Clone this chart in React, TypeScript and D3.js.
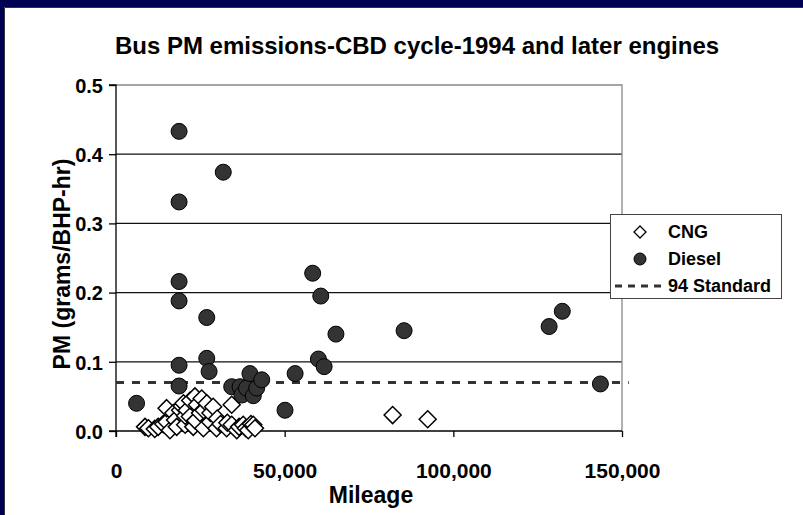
import React, { useRef, useEffect } from 'react';
import * as d3 from 'd3';

// CNG buses: mileage, PM (g/BHP-hr)
const cngMileage = [8600, 9600, 11500, 12500, 14000, 15000, 15000, 16000, 17000, 17500, 18000, 19000, 19500, 20000, 20500, 20500, 21000, 21900, 22000, 22900, 23400, 23500, 24000, 24900, 25400, 25900, 26000, 26900, 27900, 28000, 28800, 29800, 30000, 31000, 32800, 33000, 34300, 34300, 35800, 36500, 37700, 38500, 39200, 40000, 40700, 41200, 82000, 92400];
const cngPM = [0.006, 0.004, 0.003, 0.006, 0.010, 0.013, 0.033, 0.001, 0.026, 0.016, 0.006, 0.030, 0.036, 0.040, 0.009, 0.022, 0.030, 0.021, 0.044, 0.006, 0.050, 0.015, 0.038, 0.026, 0.047, 0.004, 0.030, 0.040, 0.013, 0.026, 0.035, 0.004, 0.018, 0.010, 0.004, 0.012, 0.038, 0.009, 0.001, 0.006, 0.009, 0.004, 0.001, 0.010, 0.009, 0.004, 0.023, 0.017];

// Diesel buses
const dieselMileage = [6100, 18700, 18700, 18700, 18700, 18700, 18700, 31800, 26900, 26900, 27600, 34300, 36800, 37300, 38700, 39700, 40700, 41700, 43200, 50100, 53100, 58300, 60700, 65200, 60000, 61700, 85400, 132300, 128400, 143600];
const dieselPM = [0.040, 0.433, 0.331, 0.216, 0.188, 0.095, 0.065, 0.374, 0.164, 0.105, 0.086, 0.064, 0.064, 0.052, 0.062, 0.083, 0.051, 0.062, 0.074, 0.030, 0.083, 0.228, 0.195, 0.140, 0.104, 0.093, 0.145, 0.173, 0.151, 0.068];

const standardPM = 0.07;
const yTicks = [0, 0.1, 0.2, 0.3, 0.4, 0.5];
const xTicks = [0, 50000, 100000, 150000];
const legendLabels = ['CNG', 'Diesel', '94 Standard'];

const W = 803;
const H = 515;
const FONT = '"Liberation Sans", Arial, Helvetica, sans-serif';

const App: React.FC = () => {
    const svgRef = useRef<SVGSVGElement | null>(null);

    useEffect(() => {
        const svg = d3.select(svgRef.current);
        svg.selectAll('*').remove();

        // slide frame
        svg.append('rect').attr('width', W).attr('height', H).attr('fill', '#fff');
        svg.append('rect').attr('x', 0).attr('y', 0).attr('width', W).attr('height', 7).attr('fill', '#000052');
        svg.append('rect').attr('x', 0).attr('y', 0).attr('width', 4).attr('height', H).attr('fill', '#000052');
        svg.append('path').attr('d', `M4.5,${H} V7.5 H${W}`).attr('fill', 'none').attr('stroke', '#333').attr('stroke-width', 1);

        const x = d3.scaleLinear().domain([0, 150000]).range([116, 622]);
        const y = d3.scaleLinear().domain([0, 0.5]).range([431, 85]);

        const g = svg.append('g');

        // gridlines
        g.selectAll('line.grid')
            .data(yTicks.slice(1, 5))
            .enter().append('line')
            .attr('x1', x(0)).attr('x2', x(150000))
            .attr('y1', d => y(d)).attr('y2', d => y(d))
            .attr('stroke', '#111').attr('stroke-width', 1.3);

        // plot border top/right
        g.append('path')
            .attr('d', `M${x(0)},${y(0.5)} H${x(150000)} V${y(0)}`)
            .attr('fill', 'none').attr('stroke', '#888').attr('stroke-width', 1.3);

        // axes
        const yAxis = d3.axisLeft(y).tickValues(yTicks).tickSize(7).tickFormat(d3.format('.1f'));
        const ya = g.append('g').attr('transform', `translate(${x(0)},0)`).call(yAxis);
        ya.select('.domain').attr('stroke', '#000').attr('stroke-width', 1.3).attr('d', `M-7,${y(0.5)} H0 V${y(0) + 6}`);
        ya.selectAll('.tick line').attr('stroke', '#000').attr('stroke-width', 1.3);
        ya.selectAll('.tick text')
            .attr('x', -13).attr('dy', '0.36em')
            .attr('font-family', FONT).attr('font-size', 20).attr('font-weight', 'bold').attr('fill', '#000');

        const xAxis = d3.axisBottom(x).tickValues(xTicks).tickSize(6).tickFormat(d3.format(','));
        const xa = g.append('g').attr('transform', `translate(0,${y(0)})`).call(xAxis);
        xa.select('.domain').attr('stroke', '#000').attr('stroke-width', 1.3).attr('d', `M${x(0) - 7},0 H${x(150000)}`);
        xa.selectAll('.tick line').attr('stroke', '#000').attr('stroke-width', 1.3);
        xa.selectAll('.tick text')
            .attr('y', 39).attr('dy', '0.36em')
            .attr('font-family', FONT).attr('font-size', 21).attr('font-weight', 'bold').attr('fill', '#000');

        // standard line
        g.append('line')
            .attr('x1', x(0)).attr('x2', x(152000))
            .attr('y1', y(standardPM)).attr('y2', y(standardPM))
            .attr('stroke', '#333').attr('stroke-width', 3).attr('stroke-dasharray', '8,8');

        // diesel circles
        g.selectAll('circle.diesel')
            .data(dieselMileage.map((m, i) => [m, dieselPM[i]]))
            .enter().append('circle')
            .attr('cx', d => x(d[0])).attr('cy', d => y(d[1])).attr('r', 8)
            .attr('fill', '#333').attr('stroke', '#000').attr('stroke-width', 1);

        // CNG diamonds
        const diamond = (cx: number, cy: number, r: number) => `M${cx},${cy - r} L${cx + r},${cy} L${cx},${cy + r} L${cx - r},${cy} Z`;
        g.selectAll('path.cng')
            .data(cngMileage.map((m, i) => [m, cngPM[i]]))
            .enter().append('path')
            .attr('d', d => diamond(x(d[0]), y(d[1]), 8.5))
            .attr('fill', '#fff').attr('stroke', '#000').attr('stroke-width', 1.5);

        // titles
        svg.append('text')
            .attr('x', 417).attr('y', 54).attr('text-anchor', 'middle')
            .attr('font-family', FONT).attr('font-size', 24).attr('font-weight', 'bold')
            .text('Bus PM emissions-CBD cycle-1994 and later engines');
        svg.append('text')
            .attr('x', 371).attr('y', 503).attr('text-anchor', 'middle')
            .attr('font-family', FONT).attr('font-size', 23).attr('font-weight', 'bold')
            .text('Mileage');
        svg.append('text')
            .attr('transform', `translate(70,264) rotate(-90)`).attr('text-anchor', 'middle')
            .attr('font-family', FONT).attr('font-size', 23).attr('font-weight', 'bold')
            .text('PM (grams/BHP-hr)');

        // legend
        const lg = svg.append('g').attr('transform', 'translate(610,214)');
        lg.append('rect').attr('x', 0.5).attr('y', 0.5).attr('width', 171).attr('height', 84)
            .attr('fill', '#fff').attr('stroke', '#444').attr('stroke-width', 1);
        const rowY = [18, 45, 72];
        lg.append('path').attr('d', diamond(30, rowY[0], 6)).attr('fill', '#fff').attr('stroke', '#000').attr('stroke-width', 1.3);
        lg.append('circle').attr('cx', 30).attr('cy', rowY[1]).attr('r', 6).attr('fill', '#333').attr('stroke', '#000');
        lg.append('line').attr('x1', 5).attr('x2', 55).attr('y1', rowY[2]).attr('y2', rowY[2])
            .attr('stroke', '#333').attr('stroke-width', 3).attr('stroke-dasharray', '7,6');
        lg.selectAll('text.leg')
            .data(legendLabels)
            .enter().append('text')
            .attr('x', 58)
            .attr('y', (d, i) => rowY[i]).attr('dy', '0.36em')
            .attr('font-family', FONT).attr('font-size', 18).attr('font-weight', 'bold')
            .text(d => d);
    }, []);

    return (
        <svg ref={svgRef} width={W} height={H}
            style={{ position: 'absolute', left: 0, top: 0, display: 'block' }} />
    );
};

export default App;
